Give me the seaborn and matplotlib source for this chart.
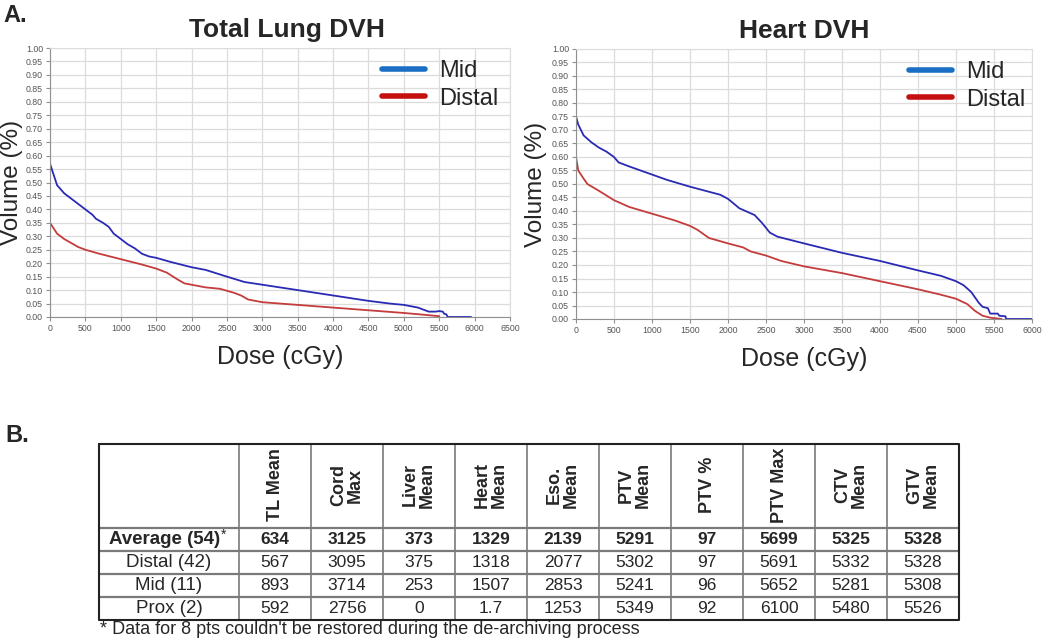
import matplotlib
matplotlib.use("Agg")
import matplotlib.pyplot as plt
from matplotlib.lines import Line2D
import numpy as np
import pandas as pd
import seaborn as sns

# DVH curves (dose in cGy, volume fraction)
lung_mid_dose = [0, 50, 100, 200, 300, 400, 500, 600, 650, 750, 830, 900, 1000, 1100, 1200, 1300,
                 1400, 1500, 1700, 2000, 2200, 2500, 2750, 3000, 3500, 4000, 4500, 4800, 5000, 5200,
                 5350, 5450, 5500, 5550, 5570, 5600, 5620, 5950]
lung_mid_vol = [0.57, 0.53, 0.49, 0.46, 0.44, 0.42, 0.40, 0.38, 0.365, 0.35, 0.335, 0.31, 0.29, 0.27,
                0.255, 0.235, 0.225, 0.22, 0.205, 0.185, 0.175, 0.15, 0.13, 0.12, 0.10, 0.08, 0.06,
                0.05, 0.045, 0.035, 0.02, 0.02, 0.022, 0.02, 0.012, 0.01, 0.0, 0.0]
lung_distal_dose = [0, 50, 100, 200, 300, 400, 500, 700, 1000, 1300, 1500, 1650, 1800, 1900, 2000,
                    2200, 2400, 2600, 2700, 2800, 3000, 3500, 4000, 4500, 5000, 5300, 5500]
lung_distal_vol = [0.35, 0.33, 0.31, 0.29, 0.275, 0.26, 0.25, 0.235, 0.215, 0.195, 0.18, 0.165, 0.14,
                   0.125, 0.12, 0.11, 0.105, 0.09, 0.08, 0.065, 0.055, 0.045, 0.035, 0.025, 0.015,
                   0.008, 0.003]

heart_mid_dose = [0, 30, 100, 200, 300, 400, 500, 560, 700, 1000, 1200, 1500, 1700, 1900, 2000, 2150,
                  2350, 2450, 2550, 2650, 3000, 3500, 4000, 4500, 4800, 5000, 5100, 5200, 5300, 5350,
                  5420, 5450, 5550, 5570, 5650, 5660, 6000]
heart_mid_vol = [0.75, 0.72, 0.68, 0.655, 0.635, 0.62, 0.60, 0.58, 0.565, 0.535, 0.515, 0.49, 0.475,
                 0.46, 0.445, 0.41, 0.385, 0.355, 0.32, 0.305, 0.28, 0.245, 0.215, 0.18, 0.16, 0.14,
                 0.125, 0.10, 0.06, 0.045, 0.04, 0.02, 0.02, 0.012, 0.01, 0.0, 0.0]
heart_distal_dose = [0, 30, 100, 150, 300, 500, 700, 1000, 1300, 1500, 1600, 1750, 2000, 2200, 2300,
                     2500, 2700, 3000, 3500, 4000, 4500, 4800, 5000, 5150, 5250, 5350, 5450, 5600]
heart_distal_vol = [0.60, 0.55, 0.52, 0.50, 0.475, 0.44, 0.415, 0.39, 0.365, 0.345, 0.33, 0.30, 0.28,
                    0.265, 0.25, 0.235, 0.215, 0.195, 0.17, 0.14, 0.11, 0.09, 0.075, 0.055, 0.03,
                    0.012, 0.005, 0.0]

# Table data
col_headers = ["TL Mean", "Cord\nMax", "Liver\nMean", "Heart\nMean", "Eso.\nMean", "PTV\nMean",
               "PTV %", "PTV Max", "CTV\nMean", "GTV\nMean"]
row_labels = ["Average (54)", "Distal (42)", "Mid (11)", "Prox (2)"]
avg_vals = ["634", "3125", "373", "1329", "2139", "5291", "97", "5699", "5325", "5328"]
distal_vals = ["567", "3095", "375", "1318", "2077", "5302", "97", "5691", "5332", "5328"]
mid_vals = ["893", "3714", "253", "1507", "2853", "5241", "96", "5652", "5281", "5308"]
prox_vals = ["592", "2756", "0", "1.7", "1253", "5349", "92", "6100", "5480", "5526"]
footnote = "* Data for 8 pts couldn't be restored during the de-archiving process"

sns.set_style("white")
plt.rcParams["font.family"] = ["Liberation Sans", "DejaVu Sans"]

line_colors = {"Mid": "#2a2ab4", "Distal": "#c43c3c"}
legend_colors = {"Mid": "#1a6fc4", "Distal": "#c41010"}

W, H = 1050, 643
fig = plt.figure(figsize=(10.5, 6.43), dpi=100)


def px_axes(left, top, right, bottom):
    return fig.add_axes([left / W, 1 - bottom / H, (right - left) / W, (bottom - top) / H])


def draw_dvh(ax, mid_d, mid_v, dist_d, dist_v, xmax, title, title_x, ylab_x, leg_anchor):
    df = pd.concat([
        pd.DataFrame({"dose": mid_d, "vol": mid_v, "group": "Mid"}),
        pd.DataFrame({"dose": dist_d, "vol": dist_v, "group": "Distal"}),
    ])
    sns.lineplot(data=df, x="dose", y="vol", hue="group", palette=line_colors,
                 estimator=None, sort=False, linewidth=1.3, legend=False, ax=ax)
    ax.set_xlim(0, xmax)
    ax.set_ylim(0, 1)
    ax.set_xticks(np.arange(0, xmax + 1, 500))
    ax.set_yticks(np.arange(0, 1.001, 0.05))
    ax.set_yticklabels([f"{v:.2f}" for v in np.arange(0, 1.001, 0.05)])
    ax.grid(True, color="#dcdcdc", linewidth=0.9)
    for s in ax.spines.values():
        s.set_color("#dcdcdc")
    ax.spines["left"].set_color("#909090")
    ax.spines["bottom"].set_color("#909090")
    ax.tick_params(axis="both", labelsize=6.3, labelcolor="#555555", length=3,
                   color="#909090", pad=2, left=True, bottom=True)
    ax.set_xlabel("Dose (cGy)", fontsize=18, labelpad=9)
    ax.set_ylabel("Volume (%)", fontsize=17.5)
    ax.yaxis.set_label_coords(ylab_x, 0.5)
    ax.yaxis.label.set_va("center")
    ax.set_title(title, fontsize=19, fontweight="bold", pad=8, x=title_x)
    handles = [Line2D([], [], color=legend_colors[g], lw=4) for g in ["Mid", "Distal"]]
    ax.legend(handles, ["Mid", "Distal"], loc="upper right", frameon=False, fontsize=17,
              handlelength=1.8, handletextpad=0.6, labelspacing=0.25,
              bbox_to_anchor=leg_anchor)


ax1 = px_axes(50, 48, 510, 317)
draw_dvh(ax1, lung_mid_dose, lung_mid_vol, lung_distal_dose, lung_distal_vol, 6500,
         "Total Lung DVH", (287 - 50) / 460, (12 - 50) / 460, (1.02, 1.035))
ax2 = px_axes(576, 49, 1032, 319)
draw_dvh(ax2, heart_mid_dose, heart_mid_vol, heart_distal_dose, heart_distal_vol, 6000,
         "Heart DVH", 0.5, (536 - 576) / 456, (1.032, 1.035))

fig.text(3 / W, 1 - 16 / H, "A.", fontsize=17, fontweight="bold", va="center", ha="left")
fig.text(5 / W, 1 - 436 / H, "B.", fontsize=17, fontweight="bold", va="center", ha="left")

# Table panel (pixel coordinates inside the table axes)
tx0, ty0, tx1, ty1 = 99, 444, 959, 620
tab = px_axes(tx0, ty0, tx1, ty1)
tw, th = tx1 - tx0, ty1 - ty0
tab.set_xlim(0, tw)
tab.set_ylim(th, 0)
tab.axis("off")
first_w = 140
col_w = (tw - first_w) / len(col_headers)
head_h = 84
row_h = (th - head_h) / len(row_labels)

for i in range(1, len(col_headers) + 1):
    x = first_w + (i - 1) * col_w
    tab.plot([x, x], [0, th], color="#7a7a7a", lw=1.2, clip_on=False)
for j in range(len(row_labels)):
    y = head_h + j * row_h
    tab.plot([0, tw], [y, y], color="#7a7a7a", lw=1.6, clip_on=False)
tab.plot([0, tw, tw, 0, 0], [0, 0, th, th, 0], color="#222222", lw=1.5, clip_on=False)

for i, h in enumerate(col_headers):
    cx = first_w + (i + 0.5) * col_w
    tab.text(cx, 41, h, rotation=90, ha="center", va="center", multialignment="center",
             fontsize=13, fontweight="bold", linespacing=1.0)

rows = [avg_vals, distal_vals, mid_vals, prox_vals]
for j, (lab, vals) in enumerate(zip(row_labels, rows)):
    cy = head_h + (j + 0.5) * row_h
    weight = "bold" if j == 0 else "normal"
    if j == 0:
        t = tab.text(first_w / 2 - 4, cy, lab, ha="center", va="center", fontsize=13.5,
                     fontweight=weight)
        tab.annotate("*", xy=(1, 0.75), xycoords=t, ha="left", va="center", fontsize=10)
    else:
        tab.text(first_w / 2, cy, lab, ha="center", va="center", fontsize=13.5, fontweight=weight)
    for i, v in enumerate(vals):
        cx = first_w + (i + 0.5) * col_w
        tab.text(cx, cy, v, ha="center", va="center", fontsize=12.5, fontweight=weight)

fig.text(100 / W, 1 - 630 / H, footnote, fontsize=13, ha="left", va="center")

fig.savefig("out.png", dpi=100)
